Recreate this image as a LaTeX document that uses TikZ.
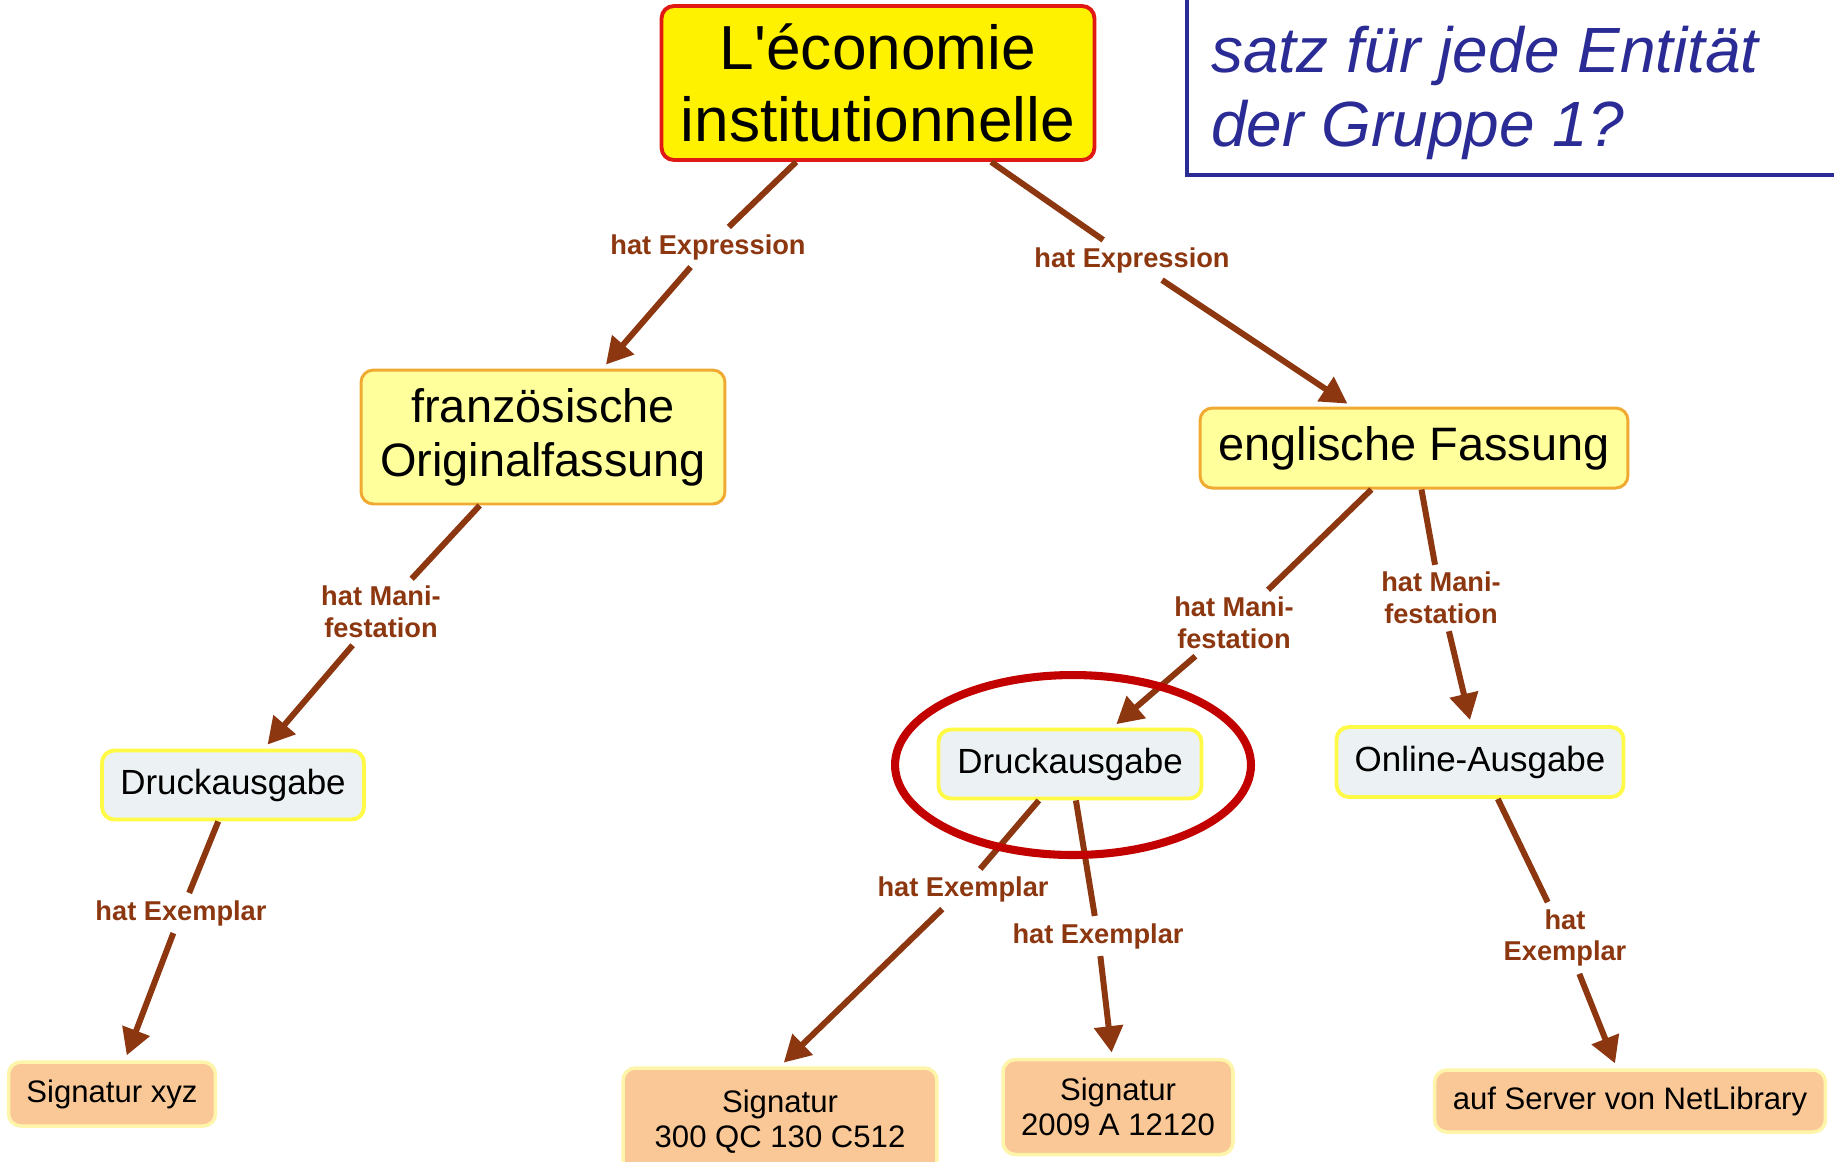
\documentclass[tikz,border=0pt]{standalone}
\usepackage{fontspec}
\setmainfont{Liberation Sans}
\usepackage{xcolor}
\usetikzlibrary{arrows.meta}
\definecolor{linkbrown}{RGB}{140,55,15}
\definecolor{topred}{RGB}{225,25,20}
\definecolor{paleyellow}{RGB}{255,255,155}
\definecolor{orangeline}{RGB}{240,170,50}
\definecolor{palegrey}{RGB}{236,241,243}
\definecolor{glowyellow}{RGB}{255,250,70}
\definecolor{peach}{RGB}{250,200,150}
\definecolor{peachline}{RGB}{255,245,170}
\definecolor{markred}{RGB}{195,0,0}
\definecolor{qblue}{RGB}{43,43,150}

\begin{document}
\begin{tikzpicture}[x=0.02cm,y=-0.02cm]
		\useasboundingbox[fill=white] (0,0) rectangle (1834,1161);
		\tikzstyle{concept}=[rounded corners=7pt,align=center,inner sep=0pt]
		\tikzstyle{work}=[concept,fill=yellow,draw=topred,line width=2.2pt,minimum width=8.66cm,minimum height=3.08cm,font=\fontsize{35.4}{41}\selectfont]
		\tikzstyle{expr}=[concept,fill=paleyellow,draw=orangeline,line width=1.7pt,font=\fontsize{26.7}{30.7}\selectfont]
		\tikzstyle{manif}=[concept,fill=palegrey,draw=glowyellow,line width=2.2pt,minimum height=1.38cm,font=\fontsize{19.9}{23}\selectfont]
		\tikzstyle{item}=[concept,fill=peach,draw=peachline,line width=2pt,font=\fontsize{17.7}{20}\selectfont]
		\tikzstyle{rel}=[text=linkbrown,font=\bfseries\fontsize{15.5}{18}\selectfont,align=center,inner sep=4pt]
		\tikzstyle{question}=[text=qblue,font=\itshape\fontsize{36.4}{42}\selectfont,inner sep=0pt,anchor=base west]
		% question box
		\draw[qblue,line width=2.8pt] (1187,-30) |- (1880,175);
		\node[question] (q1) at (1211,72) {satz für jede Entität};
		\node[question] (q2) at (1211,146) {der Gruppe 1?};
		% concepts
		\node[work] (w) at (878,83) {L\textquotesingle économie\\institutionnelle};
		\node[expr,minimum width=7.28cm,minimum height=2.68cm] (fr) at (543,437) {französische\\Originalfassung};
		\node[expr,minimum width=8.56cm,minimum height=1.6cm] (en) at (1414,448) {englische Fassung};
		\node[manif,minimum width=5.24cm] (d1) at (233,785) {Druckausgabe};
		\node[manif,minimum width=5.26cm] (d2) at (1070,764) {Druckausgabe};
		\node[manif,minimum width=5.74cm,minimum height=1.4cm] (on) at (1480,762) {Online-Ausgabe};
		\node[item,minimum width=4.14cm,minimum height=1.28cm] (s1) at (112,1094) {Signatur xyz};
		\node[item,minimum width=6.28cm,minimum height=2.16cm] (s2) at (780,1122) {Signatur\\300 QC 130 C512};
		\node[item,minimum width=4.6cm,minimum height=1.9cm] (s3) at (1118,1107) {Signatur\\2009 A 12120};
		\node[item,minimum width=7.82cm,minimum height=1.24cm] (s4) at (1630,1101) {auf Server von NetLibrary};
		% link labels
		\node[rel] (x1) at (708,247) {hat Expression};
		\node[rel] (x2) at (1132,260) {hat Expression};
		\node[rel] (m1) at (381,612) {hat Mani-\\festation};
		\node[rel] (m2) at (1234,623) {hat Mani-\\festation};
		\node[rel] (m3) at (1441,598) {hat Mani-\\festation};
		\node[rel] (h1) at (181,913) {hat Exemplar};
		\node[rel] (h2) at (963,889) {hat Exemplar};
		\node[rel] (h3) at (1098,936) {hat Exemplar};
		\node[rel] (h4) at (1565,938) {hat\\Exemplar};
		\tikzstyle{every edge}+=[linkbrown,line width=3.4pt]
		\tikzstyle{arr}=[-{Triangle[length=15pt,width=16pt]},shorten >=3pt]
		\draw
		(w) edge (x1) edge (x2)
		(x1) edge[arr] (fr)
		(x2) edge[arr] (en)
		(fr) edge (m1)
		(m1) edge[arr] (d1)
		(en) edge (m2) edge (m3)
		(m2) edge[arr] (d2)
		(m3) edge[arr] (on)
		(d1) edge (h1)
		(h1) edge[arr] (s1)
		(d2) edge (h2) edge (h3)
		(h2) edge[arr] (s2.north)
		(h3) edge[arr] (s3)
		(on) edge (h4)
		(h4) edge[arr] (s4)
		;
		% highlight
		\draw[markred,line width=4.6pt] (1073,765) ellipse [x radius=3.56cm,y radius=1.8cm];
	\end{tikzpicture}
\end{document}
